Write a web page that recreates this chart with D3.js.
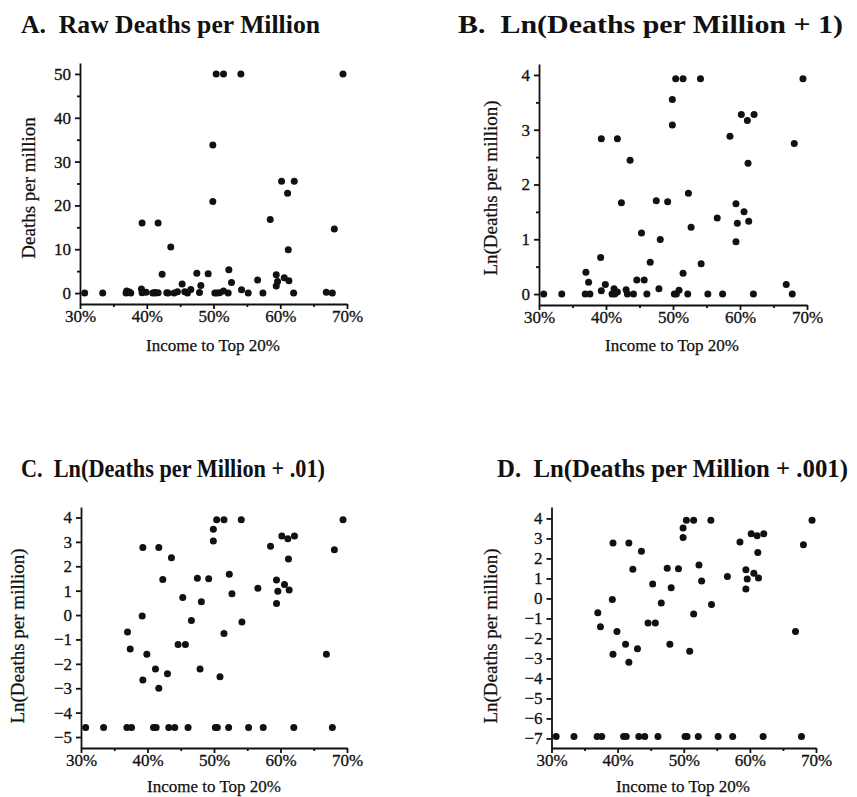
<!DOCTYPE html>
<html>
<head>
<meta charset="utf-8">
<script src="https://cdn.jsdelivr.net/npm/d3@7"></script>
<style>
  body { margin: 0; background: #fff; }
  svg { display: block; }
  text { font-family: 'Liberation Serif', 'Times New Roman', serif; fill: #111; }
  .title { font-size: 25px; font-weight: bold; }
  .lab { font-size: 17px; stroke: #111; stroke-width: 0.25; }
  .ylab { font-size: 19px; }
  .axis text { font-size: 17px; stroke: #111; stroke-width: 0.3; }
  .axis path, .axis line { stroke: #111; stroke-width: 1.8; }
  .axis .minor line { stroke-width: 1.4; }
</style>
</head>
<body>
<div id="chart"></div>
<script>
// share of income going to the top 20% (x, percent)
const income = [30.7, 33.4, 36.9, 37.0, 37.4, 37.6, 39.2, 39.3, 39.3, 39.9,
  40.9, 41.2, 41.3, 41.7, 41.7, 42.3, 43.0, 43.2, 43.6, 44.1,
  44.6, 45.3, 45.7, 46.1, 46.6, 47.5, 47.9, 48.1, 49.2, 49.9,
  49.9, 50.2, 50.4, 50.5, 50.9, 51.5, 51.5, 52.2, 52.3, 52.7,
  54.1, 54.2, 55.2, 56.6, 57.4, 58.5, 59.4, 59.4, 59.6, 60.2,
  60.6, 61.1, 61.2, 61.3, 62.0, 62.1, 66.9, 67.8, 68.1, 69.4]

// deaths per million (capped at 50)
const deaths = [0, 0, 0, 0.49, 0.24, 0, 0.95, 0.06, 16.0, 0.19,
  0, 0.10, 0, 0.04, 16.0, 4.3, 0.08, 0, 10.5, 0,
  0.29, 2.05, 0.29, 0, 0.79, 4.5, 0.10, 1.71, 4.4, 33.8,
  20.9, 0, 50, 0, 0.07, 50, 0.46, 0, 5.3, 2.38,
  50, 0.74, 0, 3.0, 0, 16.8, 4.2, 1.6, 2.65, 25.5,
  3.5, 22.8, 9.9, 2.78, 0, 25.5, 0.19, 0, 14.6, 50]

const titles = ['A.  Raw Deaths per Million', 'B.  Ln(Deaths per Million + 1)',
  'C.  Ln(Deaths per Million + .01)', 'D.  Ln(Deaths per Million + .001)']
const yLabels = ['Deaths per million', 'Ln(Deaths per million)', 'Ln(Deaths per million)', 'Ln(Deaths per million)']
const xLabel = 'Income to Top 20%'
const offsets = [null, 1, 0.01, 0.001]
const xTicks = [30, 40, 50, 60, 70]
const xMinor = [35, 45, 55, 65]
const yTicks = [[0, 10, 20, 30, 40, 50], [0, 1, 2, 3, 4],
  [-5, -4, -3, -2, -1, 0, 1, 2, 3, 4], [-7, -6, -5, -4, -3, -2, -1, 0, 1, 2, 3, 4]]
const yMinor = [[5, 15, 25, 35, 45], [0.5, 1.5, 2.5, 3.5], [], []]
const yDomains = [[-2.5, 52.5], [-0.2, 4.2], [-5.45, 4.43], [-7.48, 4.57]]

// panel boxes: left, right, top, bottom of the axes
const boxes = [
  { l: 80, r: 347, t: 63, b: 304, tx: 21, tw: 299, ty: 33, ylx: 28, yly: 188, xlx: 213, xly: 351 },
  { l: 539, r: 807, t: 64, b: 305, tx: 458, tw: 385, ty: 33, ylx: 490, yly: 188, xlx: 672, xly: 351 },
  { l: 81, r: 347, t: 507, b: 748, tx: 21, tw: 304, ty: 477, ylx: 17, yly: 636, xlx: 214, xly: 792 },
  { l: 551.5, r: 816, t: 507, b: 748, tx: 497, tw: 351, ty: 477, ylx: 490, yly: 636, xlx: 683, xly: 792 }
]

const svg = d3.select('#chart').append('svg')
  .attr('width', 857)
  .attr('height', 797)

const data = income.map((d, i) => ({ x: d, v: deaths[i] }))

boxes.forEach((b, p) => {
  const g = svg.append('g')
  const x = d3.scaleLinear().domain([30, 70]).range([b.l, b.r])
  const y = d3.scaleLinear().domain(yDomains[p]).range([b.b, b.t])
  const val = (d) => offsets[p] === null ? d.v : Math.log(d.v + offsets[p])

  g.append('text').attr('class', 'title')
    .attr('x', b.tx).attr('y', b.ty)
    .attr('xml:space', 'preserve')
    .attr('textLength', b.tw)
    .attr('lengthAdjust', 'spacingAndGlyphs')
    .text(titles[p])

  // minor ticks
  g.append('g').attr('class', 'axis minor')
    .attr('transform', 'translate(' + [b.l, 0] + ')')
    .call(d3.axisLeft(y).tickValues(yMinor[p]).tickSize(3).tickFormat(''))
    .select('.domain').remove()
  g.append('g').attr('class', 'axis minor')
    .attr('transform', 'translate(' + [0, b.b] + ')')
    .call(d3.axisBottom(x).tickValues(xMinor).tickSize(3).tickFormat(''))
    .select('.domain').remove()

  g.append('g').attr('class', 'axis')
    .attr('transform', 'translate(' + [b.l, 0] + ')')
    .call(d3.axisLeft(y).tickValues(yTicks[p]).tickSize(5).tickSizeOuter(0).tickPadding(4)
      .tickFormat(d3.format('d')))
  g.append('g').attr('class', 'axis')
    .attr('transform', 'translate(' + [0, b.b] + ')')
    .call(d3.axisBottom(x).tickValues(xTicks).tickSize(5).tickSizeOuter(0).tickPadding(1)
      .tickFormat((d) => d + '%'))

  g.append('text').attr('class', 'lab ylab')
    .attr('text-anchor', 'middle')
    .attr('transform', 'translate(' + [b.ylx, b.yly] + ') rotate(-90)')
    .attr('dy', '0.35em')
    .text(yLabels[p])

  g.append('text').attr('class', 'lab')
    .attr('text-anchor', 'middle')
    .attr('x', b.xlx).attr('y', b.xly)
    .text(xLabel)

  g.selectAll('circle.dot')
    .data(data)
    .enter()
    .append('circle')
    .attr('class', 'dot')
    .attr('cx', (d) => x(d.x))
    .attr('cy', (d) => y(val(d)))
    .attr('r', 3.5)
    .attr('fill', '#111')
})
</script>
</body>
</html>
